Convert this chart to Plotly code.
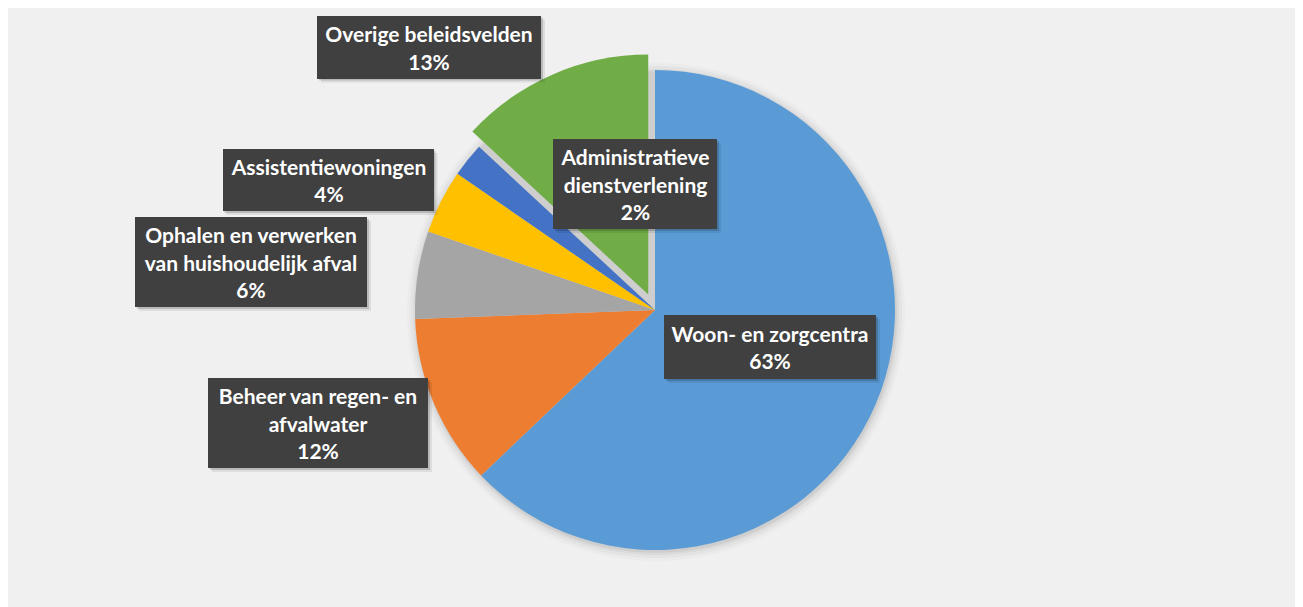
import plotly.graph_objects as go

W, H = 1303, 607
OFF = 8  # page margin the browser puts round the figure

# slice data, clockwise from 12 o'clock
labels = ['Woon- en zorgcentra',
          'Beheer van regen- en<br>afvalwater',
          'Ophalen en verwerken<br>van huishoudelijk afval',
          'Assistentiewoningen',
          'Administratieve<br>dienstverlening',
          'Overige beleidsvelden']
values = [62.9, 11.5, 5.9, 4.3, 2.3, 13.1]
colors = ['#5B9BD5', '#ED7D31', '#A5A5A5', '#FFC000', '#4472C4', '#70AD47']
pulls = [0, 0, 0, 0, 0, 0.07]

# label boxes: centre x, centre y, width, height (page pixels)
boxes = [(770, 347, 212, 64),
         (318, 423, 220, 90),
         (251, 262, 232, 90),
         (328, 180, 211, 62),
         (635, 184, 164, 90),
         (429, 47, 224, 63)]


def px(x):
    return (x - OFF) / W


def py(y):
    return 1 - (y - OFF) / H


cx, cy, r = 655, 310, 240
half = r * (1 + max(pulls))

fig = go.Figure(go.Pie(
    labels=labels, values=values, sort=False, direction='clockwise',
    rotation=0, pull=pulls, marker=dict(colors=colors, line=dict(width=0)),
    textinfo='none', hoverinfo='label+percent', showlegend=False,
    domain=dict(x=[px(cx - half), px(cx + half)],
                y=[py(cy + half), py(cy - half)])))

shapes = []

# soft shadow under the pie
for k, a in [(9, 0.02), (6, 0.03), (3, 0.04), (1, 0.05)]:
    shapes.append(dict(type='circle', xref='paper', yref='paper', layer='below',
                       x0=px(cx + 1 - r - k), x1=px(cx + 1 + r + k),
                       y0=py(cy + 2 + r + k), y1=py(cy + 2 - r - k),
                       fillcolor=f'rgba(0,0,0,{a})', line=dict(width=0)))

total = sum(values)
annotations = []
for lab, v, (bx, by, bw, bh) in zip(labels, values, boxes):
    # box shadow
    for off, a in [(4, 0.08), (2, 0.16)]:
        shapes.append(dict(type='rect', xref='paper', yref='paper', layer='above',
                           x0=px(bx - bw / 2 + off), x1=px(bx + bw / 2 + off),
                           y0=py(by + bh / 2 + off), y1=py(by - bh / 2 + off),
                           fillcolor=f'rgba(0,0,0,{a})', line=dict(width=0)))
    annotations.append(dict(
        x=px(bx), y=py(by), xref='paper', yref='paper',
        xanchor='center', yanchor='middle', showarrow=False,
        text=f'{lab}<br>{round(v / total * 100)}%',
        width=bw, height=bh, borderpad=0, borderwidth=0,
        bgcolor='#404040', align='center', valign='middle',
        font=dict(family='Lato', size=21, color='white', weight='bold')))

fig.update_layout(width=W, height=H, margin=dict(l=0, r=0, t=0, b=0),
                  paper_bgcolor='#F0F0F0', plot_bgcolor='#F0F0F0',
                  shapes=shapes, annotations=annotations)

fig.write_html("out.html")
